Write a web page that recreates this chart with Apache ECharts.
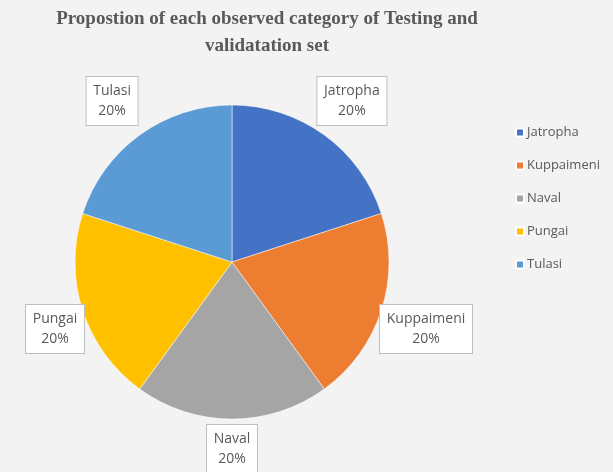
<!DOCTYPE html>
<html><head><meta charset="utf-8">
<script src="https://cdn.jsdelivr.net/npm/echarts@6/dist/echarts.min.js"></script>
<style>html,body{margin:0;padding:0;background:#fff}#c{width:613px;height:472px}</style>
</head><body><div id="c"></div>
<script>
const categories = ['Jatropha', 'Kuppaimeni', 'Naval', 'Pungai', 'Tulasi'];
const values = [20, 20, 20, 20, 20];
const colors = ['#4472C4', '#ED7D31', '#A5A5A5', '#FFC000', '#5B9BD5'];
const titleText = 'Propostion of each observed category of Testing and\nvalidatation set';

const CX = 232, CY = 262, R = 157, LABEL_R = 204;
const total = values.reduce((a, b) => a + b, 0);
const LABEL_FONT = '14px "Open Sans"';
const measureCtx = document.createElement('canvas').getContext('2d');
measureCtx.font = LABEL_FONT;
function textW(s) { return Math.ceil(measureCtx.measureText(s).width) + 1; }

const chart = echarts.init(document.getElementById('c'));
chart.setOption({
  backgroundColor: '#f3f3f3',
  animation: false,
  color: colors,
  title: {
    text: titleText,
    left: 262, top: 1, textAlign: 'center',
    textStyle: { fontFamily: 'Liberation Serif', fontWeight: 'bold', fontSize: 19, color: '#595959', lineHeight: 27 }
  },
  legend: {
    orient: 'vertical', left: 510, top: 121,
    itemWidth: 8, itemHeight: 8, itemGap: 20, icon: 'rect',
    textStyle: { fontFamily: 'Open Sans', fontSize: 13, color: '#595959', padding: [0,0,0,-2] }
  },
  series: [{
    type: 'pie', center: [CX, CY], radius: R, startAngle: 90, clockwise: true,
    data: categories.map((n, i) => ({
      name: n, value: values[i],
      label: { width: Math.max(textW(n), textW(Math.round(values[i] / total * 100) + '%')) }
    })),
    itemStyle: { borderColor: '#fff', borderWidth: 0.5 },
    label: {
      show: true, position: 'outside', overflow: 'none',
      formatter: p => p.name + '\n' + Math.round(p.percent) + '%',
      fontFamily: 'Open Sans', fontSize: 14, color: '#595959', lineHeight: 20, align: 'center',
      backgroundColor: '#fff', borderColor: '#bfbfbf', borderWidth: 1, padding: [5, 6, 3, 6]
    },
    labelLine: { show: false },
    labelLayout: function (params) {
      let before = 0;
      for (let i = 0; i < params.dataIndex; i++) before += values[i];
      const mid = (before + values[params.dataIndex] / 2) / total * Math.PI * 2;
      const w = params.labelRect.width, h = params.labelRect.height;
      let x = CX + LABEL_R * Math.sin(mid);
      let y = CY + 4 - LABEL_R * Math.cos(mid);
      x = Math.max(x, 25 + w / 2);
      y = Math.min(y, 474 - h / 2);
      return { x: x, y: y, align: 'center', verticalAlign: 'middle' };
    }
  }]
});
</script></body></html>
